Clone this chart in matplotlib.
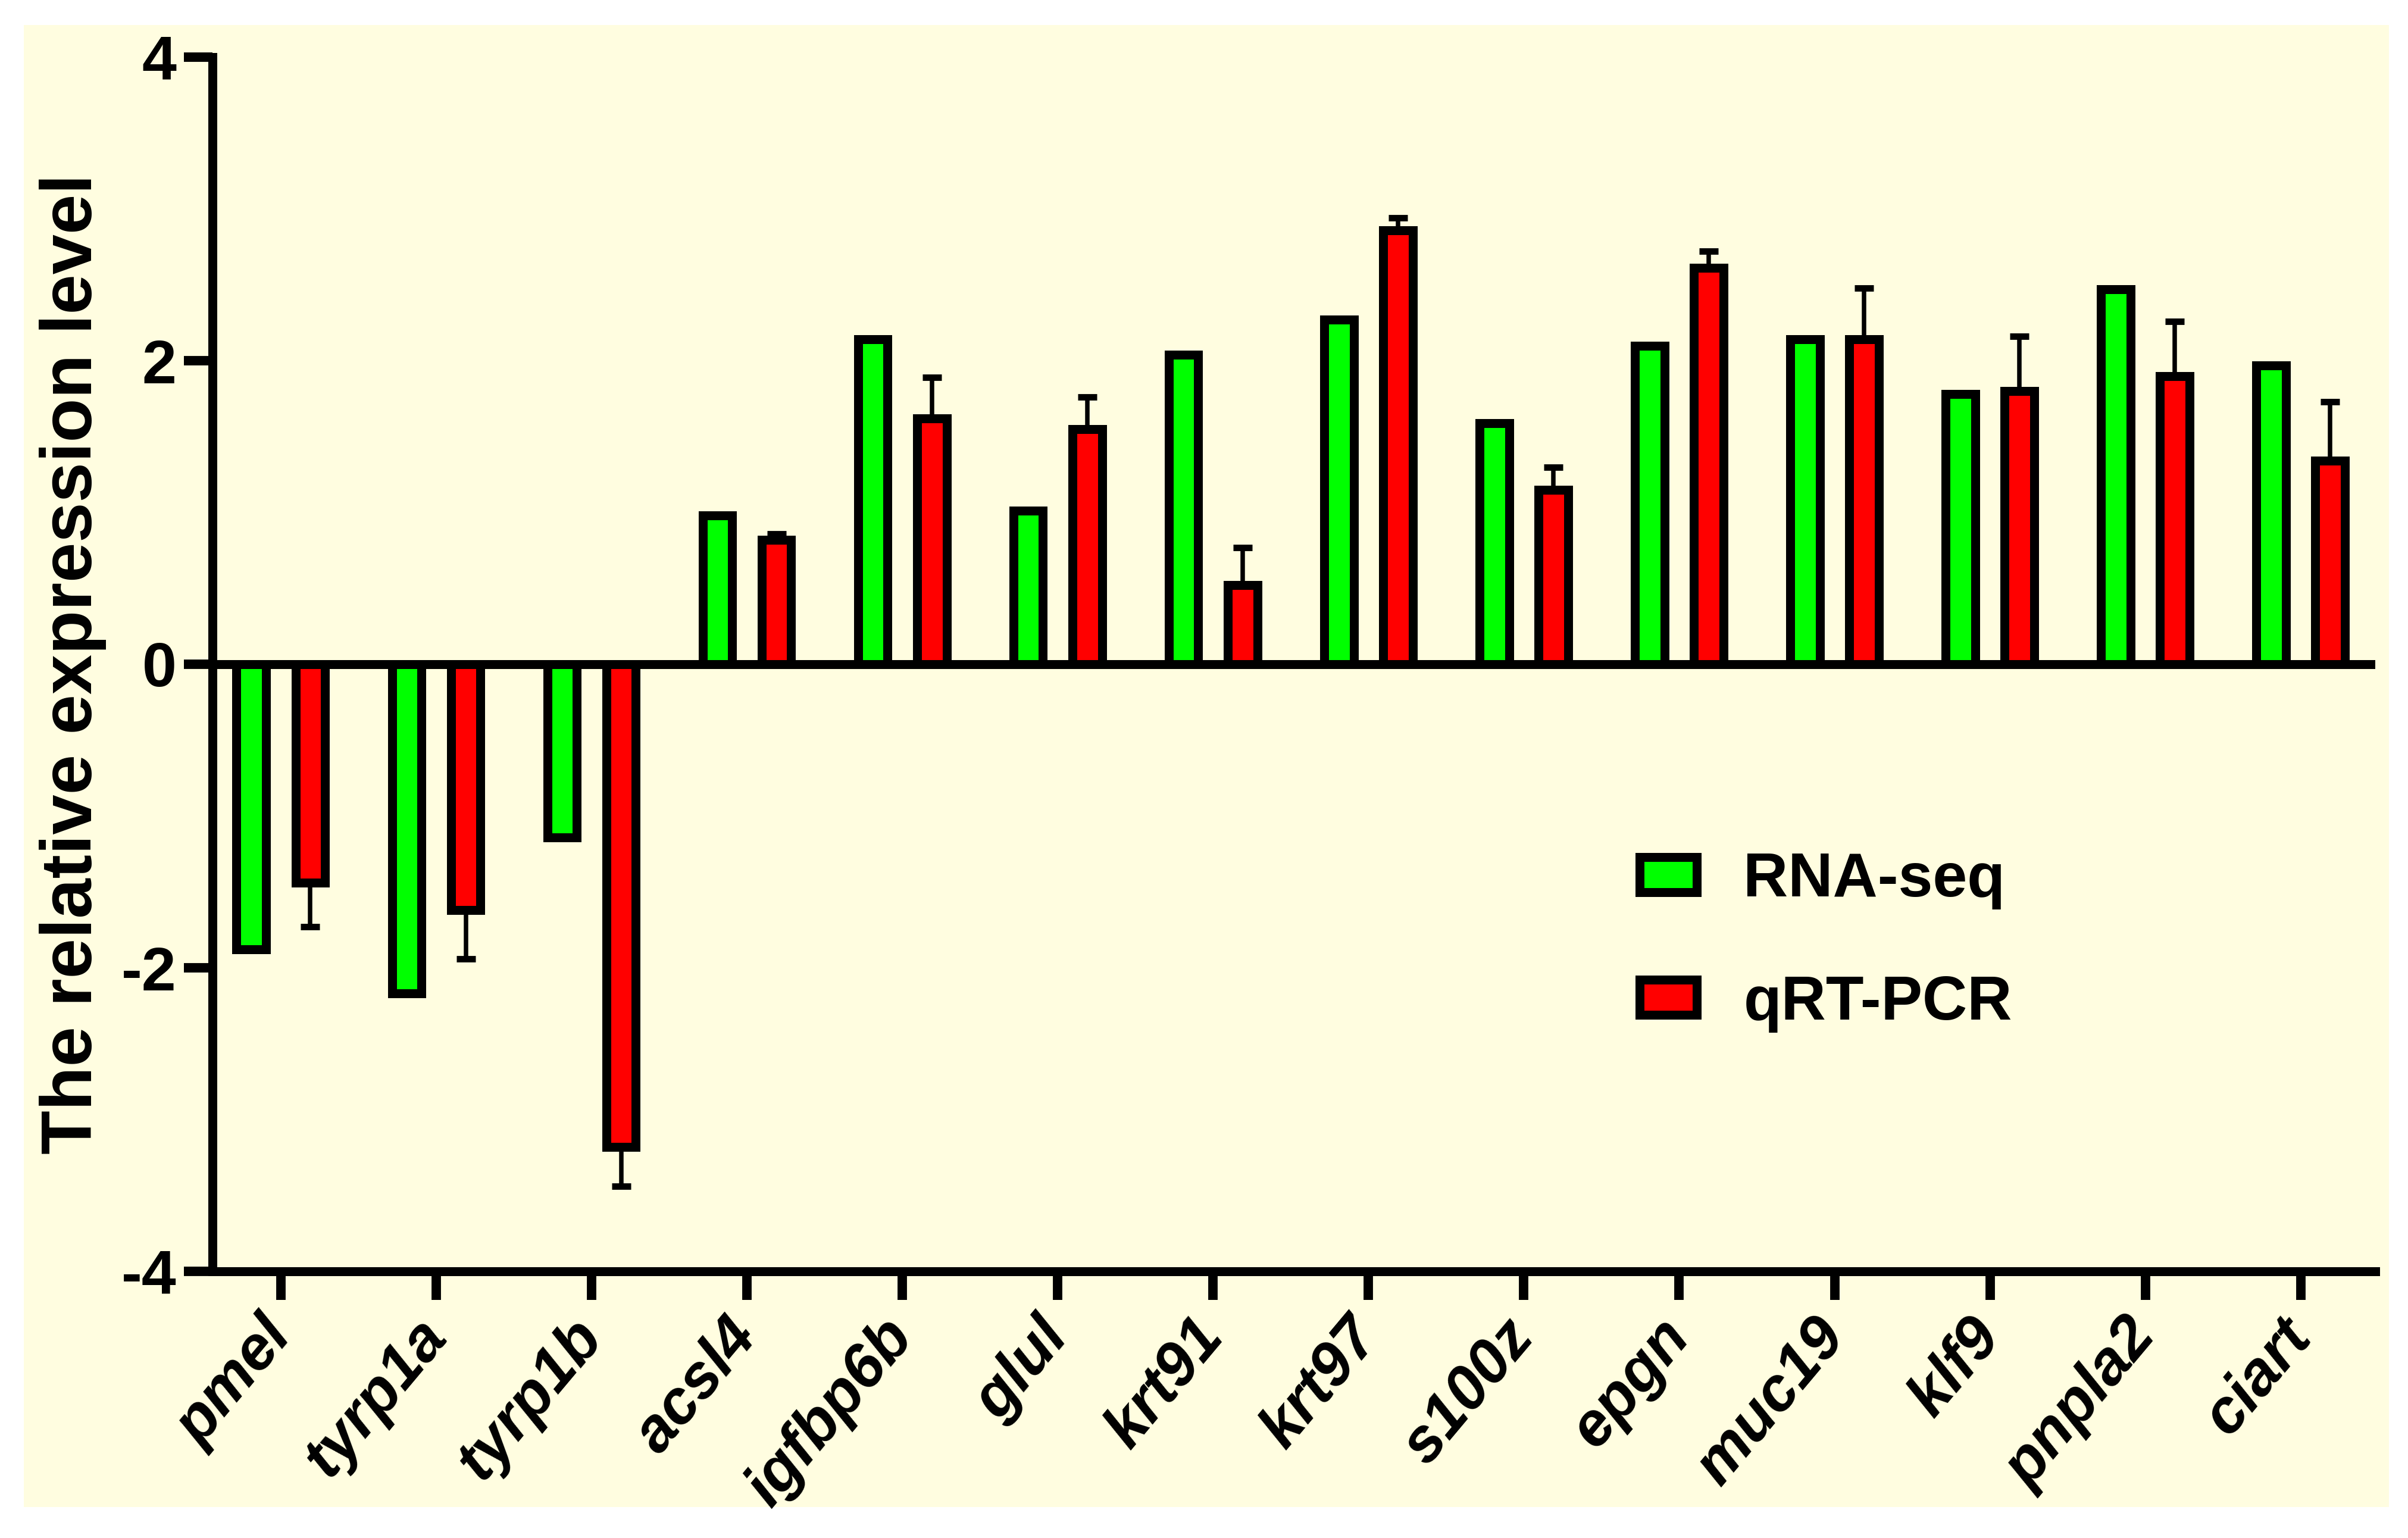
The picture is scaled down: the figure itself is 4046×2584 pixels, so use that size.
import numpy as np
import matplotlib.pyplot as plt
from matplotlib.patches import Rectangle

plt.rcParams['font.family'] = ['Liberation Sans', 'DejaVu Sans']
plt.rcParams['font.weight'] = 'bold'
plt.rcParams['axes.unicode_minus'] = False

genes = ['pmel', 'tyrp1a', 'tyrp1b', 'acsl4', 'igfbp6b', 'glul', 'krt91',
         'krt97', 's100z', 'epgn', 'muc19', 'klf9', 'pnpla2', 'ciart']
rna_seq = [-1.88, -2.17, -1.14, 0.98, 2.14, 1.01, 2.04,
           2.27, 1.59, 2.10, 2.14, 1.78, 2.47, 1.97]
qrt_pcr = [-1.44, -1.62, -3.18, 0.82, 1.62, 1.55, 0.52,
           2.86, 1.15, 2.61, 2.14, 1.80, 1.90, 1.34]
qrt_err = [0.29, 0.32, 0.26, 0.04, 0.27, 0.21, 0.25,
           0.08, 0.15, 0.11, 0.34, 0.36, 0.36, 0.39]
yticks = [-4, -2, 0, 2, 4]

W, H, DPI = 4046, 2584, 300
fig = plt.figure(figsize=(W / DPI, H / DPI), dpi=DPI)
# pale yellow panel behind the plot
fig.patches.append(Rectangle((40 / W, 52 / H), 3974 / W, 2490 / H,
                             transform=fig.transFigure, facecolor='#FFFDE0',
                             edgecolor='none', zorder=-10))

ax = fig.add_axes([357 / W, 448 / H, 3634 / W, 2040 / H])
ax.set_facecolor('none')
ax.set_zorder(5)

lw = 3.6
x = np.arange(len(genes))
q = np.array(qrt_pcr)
e = np.array(qrt_err)
lower = np.where(q < 0, e, 0)
upper = np.where(q > 0, e, 0)

b1 = ax.bar(x - 0.19, rna_seq, 0.19, color='#00FF00', edgecolor='k',
            linewidth=lw, label='RNA-seq', zorder=3)
b2 = ax.bar(x + 0.19, qrt_pcr, 0.19, color='#FF0000', edgecolor='k',
            linewidth=lw, label='qRT-PCR', zorder=3)
ax.errorbar(x + 0.19, qrt_pcr, yerr=[lower, upper], fmt='none', ecolor='k',
            elinewidth=1.8, capsize=3.9, capthick=2.6, zorder=2)
ax.axhline(0, color='k', lw=lw, zorder=4)

ax.set_xlim(-0.44, 13.48)
ax.set_ylim(-4, 4)
ax.set_yticks(yticks)
ax.set_xticks(x, genes)

for s in ['top', 'right']:
    ax.spines[s].set_visible(False)
for s in ['left', 'bottom']:
    ax.spines[s].set_linewidth(lw)

ax.tick_params(axis='both', length=11.5, width=3.8, labelsize=25, pad=3)
ax.tick_params(axis='x', pad=11)
for lab in ax.get_xticklabels():
    lab.set_rotation(50)
    lab.set_ha('right')
    lab.set_va('center')
    lab.set_rotation_mode('anchor')
    lab.set_style('italic')
    lab.set_fontsize(25)

ax.set_ylabel('The relative expression level', fontsize=29,
              fontweight='bold', labelpad=6)

ax.legend(handles=[b1, b2], loc='center left', bbox_to_anchor=(0.66, 0.271),
          frameon=False, fontsize=25, handlelength=0.92, handleheight=0.49,
          handletextpad=0.75, labelspacing=1.05, borderpad=0, borderaxespad=0)

fig.savefig('out.png', dpi=DPI)
